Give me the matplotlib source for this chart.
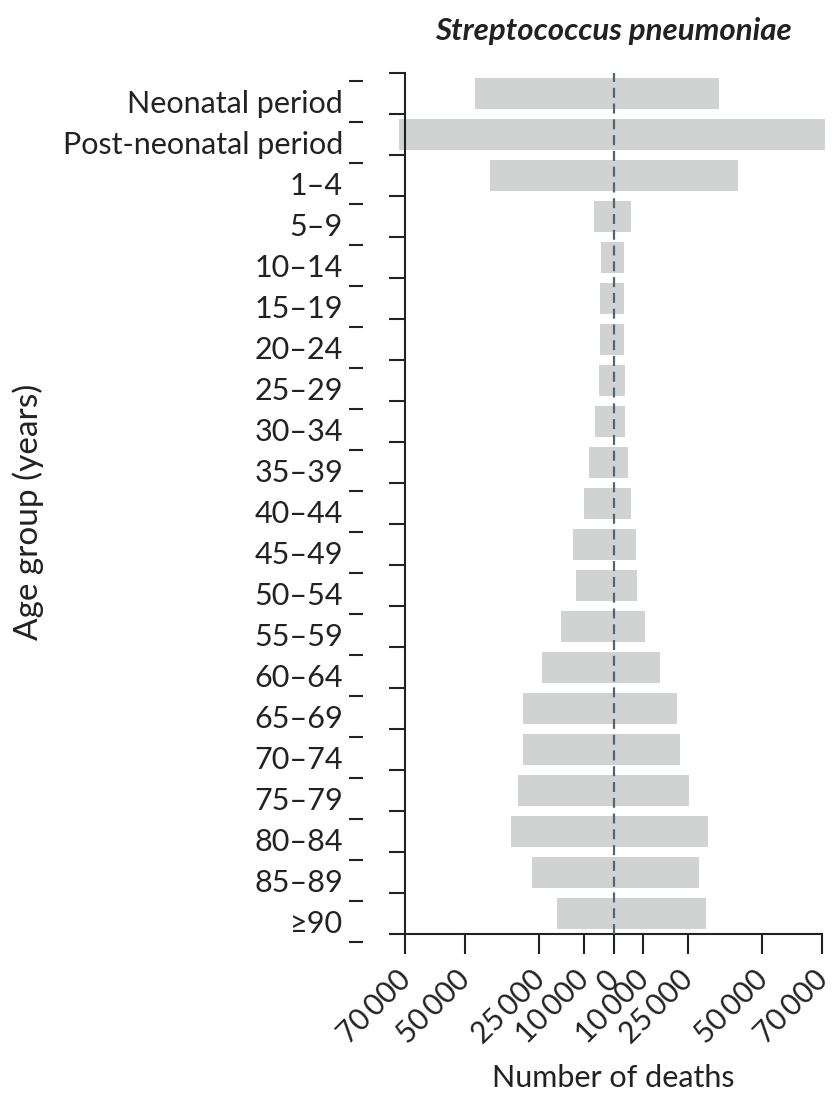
import numpy as np
import matplotlib.pyplot as plt
from matplotlib.ticker import FuncFormatter
from matplotlib.transforms import ScaledTranslation

plt.rcParams['font.family'] = ['Lato', 'DejaVu Sans']

# Age groups, top to bottom
groups = ["Neonatal period", "Post-neonatal period", "1\u20134", "5\u20139", "10\u201314",
          "15\u201319", "20\u201324", "25\u201329", "30\u201334", "35\u201339", "40\u201344",
          "45\u201349", "50\u201354", "55\u201359", "60\u201364", "65\u201369", "70\u201374",
          "75\u201379", "80\u201384", "85\u201389", "\u226590"]

# Deaths on the left-hand and right-hand side of the pyramid
left_deaths = [46500, 72000, 41500, 6400, 4100, 4500, 4500, 5000, 6300, 8100, 9900,
               13500, 12600, 17600, 23900, 30300, 30300, 32000, 34300, 27500, 19000]
right_deaths = [35400, 71000, 41700, 5800, 3400, 3400, 3400, 4000, 4000, 4900, 5800,
                7600, 8000, 10700, 15600, 21400, 22300, 25400, 31800, 28700, 30900]

xticks = [-70000, -50000, -25000, -10000, 0, 10000, 25000, 50000, 70000]

W, H = 833, 1102
PX = 72 / 100  # points per pixel
ink = '#222222'

fig = plt.figure(figsize=(W / 100, H / 100), dpi=100)
rect = [405 / W, 1 - 934 / H, 417 / W, 861 / H]
ax = fig.add_axes(rect)

y = np.arange(len(groups))
bar_col = '#d1d3d3'
ax.barh(y, -np.array(left_deaths), height=0.78, color=bar_col, clip_on=False)
ax.barh(y, right_deaths, height=0.78, color=bar_col, clip_on=False)
ax.axvline(0, color='#53666f', lw=1.6, ls=(0, (4.5, 2.6)), zorder=3)

ax.set_xlim(-70000, 70000)
ax.set_ylim(len(groups) - 0.5, -0.5)

for s in ['top', 'right']:
    ax.spines[s].set_visible(False)
for s in ['left', 'bottom']:
    ax.spines[s].set_linewidth(1.5)
    ax.spines[s].set_color(ink)

ax.set_xticks(xticks)
ax.xaxis.set_major_formatter(FuncFormatter(
    lambda v, p: f"{abs(int(v)):,}".replace(",", "\u2009")))
ax.tick_params(axis='x', length=20 * PX, width=1.5, color=ink, labelsize=21.5,
               labelcolor=ink, pad=8)
shift = ScaledTranslation(-9 / 100, 0, fig.dpi_scale_trans)
for lbl in ax.get_xticklabels():
    lbl.set_rotation(45)
    lbl.set_ha('right')
    lbl.set_va('top')
    lbl.set_rotation_mode('anchor')
    lbl.set_transform(lbl.get_transform() + shift)

edges = np.arange(len(groups) + 1) - 0.5
ax.set_yticks(edges)
ax.set_yticklabels([])
ax.tick_params(axis='y', length=16 * PX, width=1.5, color=ink)

# Labels with their own short dashes, set a little lower than the bars
lab = fig.add_axes([rect[0], rect[1] - 8 / H, rect[2], rect[3]])
lab.patch.set_visible(False)
for s in lab.spines.values():
    s.set_visible(False)
lab.spines['left'].set_position(('outward', 42 * PX))
lab.set_ylim(len(groups) - 0.5, -0.5)
lab.set_xticks([])
lab.set_yticks(edges)
lab.set_yticklabels([])
lab.tick_params(axis='y', which='major', length=14 * PX, width=1.5, color=ink)
lab.set_yticks(y, minor=True)
lab.set_yticklabels(groups, minor=True)
lab.tick_params(axis='y', which='minor', length=0, pad=20 * PX, labelsize=22,
                labelcolor=ink)

ax.set_title("Streptococcus pneumoniae", fontsize=22.5, fontweight='bold',
             fontstyle='italic', pad=24, color=ink)
fig.text(613 / W, 1 - 1078 / H, "Number of deaths", ha='center', va='center',
         fontsize=22, color=ink)
fig.text(28 / W, 1 - 512 / H, "Age group (years)", ha='center', va='center',
         rotation=90, fontsize=24, color=ink)

fig.savefig('out.png', dpi=100)
